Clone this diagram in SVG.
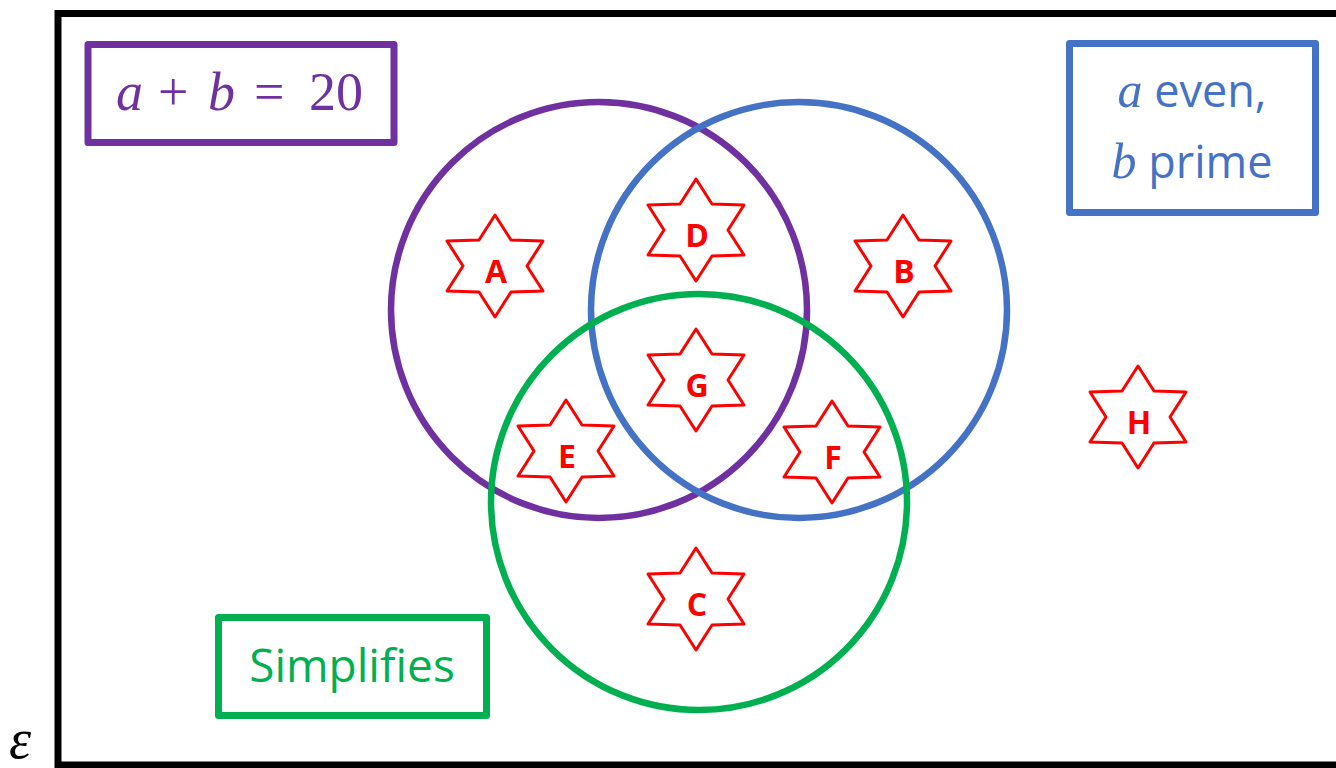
<svg xmlns="http://www.w3.org/2000/svg" width="1336" height="768" viewBox="0 0 1336 768">
  <defs>
    <style>
      .frame { fill: none; stroke: #000; stroke-width: 7; }
      .set { fill: none; stroke-width: 6.5; }
      .box { fill: #fff; stroke-width: 7; stroke-linejoin: round; }
      .purple { stroke: #7030A0; }
      .blue { stroke: #4472C4; }
      .green { stroke: #00B050; }
      .star { fill: #fff; stroke: #FF0000; stroke-width: 3; stroke-linejoin: round; }
      .lbl { font-family: "Open Sans", "Liberation Sans", sans-serif; font-weight: bold; font-size: 32px; fill: #FF0000; text-anchor: middle; }
      .math { font-family: "Liberation Serif", serif; font-style: italic; }
      .mathup { font-family: "Liberation Serif", serif; }
      .plain { font-family: "Open Sans", "Liberation Sans", sans-serif; }
    </style>
    <polygon id="hexagram" class="star" points="0,-51 16,-26 48,-25 32,0 48,25 16,26 0,51 -16,26 -48,25 -32,0 -48,-25 -16,-26"/>
  </defs>

  <rect width="1336" height="768" fill="#fff"/>

  <!-- universal set -->
  <g id="universe">
    <rect class="frame" x="58" y="13.5" width="1290" height="751.5"/>
    <text class="math" x="9" y="758" font-size="56" fill="#000">ε</text>
  </g>

  <!-- set circles -->
  <g id="circles">
    <circle id="set-sum" class="set purple" cx="599" cy="310" r="208"/>
    <circle id="set-parity" class="set blue" cx="799" cy="310" r="208"/>
    <circle id="set-simplifies" class="set green" cx="699" cy="502" r="208"/>
  </g>

  <!-- legend boxes -->
  <g id="legend-sum">
    <rect class="box purple" x="88" y="44.5" width="306" height="98"/>
    <text y="110" font-size="54" fill="#7030A0"><tspan class="math" x="116">a</tspan><tspan class="mathup" x="158">+</tspan><tspan class="math" x="208">b</tspan><tspan class="mathup" x="254">=</tspan><tspan class="mathup" x="309">20</tspan></text>
  </g>
  <g id="legend-parity">
    <rect class="box blue" x="1069.5" y="43.5" width="246" height="169"/>
    <text x="1192" y="107" font-size="45" fill="#4472C4" text-anchor="middle"><tspan class="math" font-size="50">a</tspan><tspan class="plain"> even,</tspan></text>
    <text x="1192" y="178" font-size="45" fill="#4472C4" text-anchor="middle"><tspan class="math" font-size="50">b</tspan><tspan class="plain"> prime</tspan></text>
  </g>
  <g id="legend-simplifies">
    <rect class="box green" x="218.5" y="617.5" width="268" height="98"/>
    <text class="plain" x="352" y="682" font-size="46" fill="#00B050" text-anchor="middle">Simplifies</text>
  </g>

  <!-- labelled stars -->
  <g id="star-A"><use href="#hexagram" x="495" y="266"/><text class="lbl" x="496" y="283">A</text></g>
  <g id="star-D"><use href="#hexagram" x="696" y="230"/><text class="lbl" x="697" y="247">D</text></g>
  <g id="star-B"><use href="#hexagram" x="903" y="266"/><text class="lbl" x="904" y="283">B</text></g>
  <g id="star-G"><use href="#hexagram" x="696" y="380"/><text class="lbl" x="697" y="397">G</text></g>
  <g id="star-E"><use href="#hexagram" x="566" y="451"/><text class="lbl" x="567" y="468">E</text></g>
  <g id="star-F"><use href="#hexagram" x="832" y="452"/><text class="lbl" x="833" y="469">F</text></g>
  <g id="star-H"><use href="#hexagram" x="1138" y="417"/><text class="lbl" x="1139" y="434">H</text></g>
  <g id="star-C"><use href="#hexagram" x="696" y="599"/><text class="lbl" x="697" y="616">C</text></g>
</svg>
